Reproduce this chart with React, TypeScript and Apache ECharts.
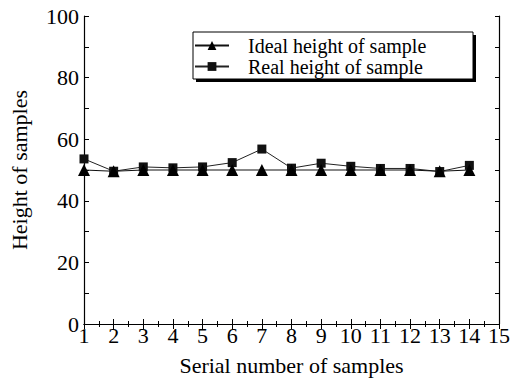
import React, { useEffect, useRef } from "react";
import * as echarts from "echarts";

const sampleNumbers = [1, 2, 3, 4, 5, 6, 7, 8, 9, 10, 11, 12, 13, 14];
const idealHeights = [50, 49.6, 50, 50, 50, 50, 50, 50, 50, 50, 50, 50, 49.6, 50];
const realHeights = [53.6, 49.6, 51, 50.7, 51, 52.4, 56.8, 50.6, 52.2, 51.2, 50.5, 50.5, 49.5, 51.5];
const xLabel = "Serial number of samples";
const yLabel = "Height of samples";
const idealName = "Ideal height of sample";
const realName = "Real height of sample";

const FONT = '"Liberation Serif", "Times New Roman", serif';

export default function App() {
  const ref = useRef<HTMLDivElement>(null);
  useEffect(() => {
    if (!ref.current) return;
    const chart = echarts.init(ref.current, undefined, { renderer: "svg" });
    const tickStyle = { color: "#000", width: 1 };
    chart.setOption({
      animation: false,
      backgroundColor: "#fff",
      textStyle: { fontFamily: FONT, color: "#000" },
      grid: { left: 84, right: 12, top: 16, bottom: 55, outerBoundsMode: "none", containLabel: false },
      graphic: [
        {
          type: "rect",
          z: 5,
          shape: { x: 196, y: 35, width: 280, height: 47 },
          style: { fill: "#000" },
        },
        {
          type: "rect",
          z: 6,
          shape: { x: 193, y: 32, width: 280, height: 47 },
          style: { fill: "#fff", stroke: "#000", lineWidth: 1 },
        },
      ],
      legend: {
        z: 10,
        left: 194,
        top: 35,
        orient: "vertical",
        itemGap: 0,
        itemWidth: 34,
        itemHeight: 11,
        padding: 0,
        textStyle: { fontFamily: FONT, fontSize: 20, color: "#000", lineHeight: 21, padding: [0, 0, 0, 14] },
        data: [idealName, realName],
      },
      xAxis: [
        {
          type: "value",
          min: 1,
          max: 15,
          interval: 1,
          name: xLabel,
          nameLocation: "middle",
          nameGap: 30,
          nameTextStyle: { fontFamily: FONT, fontSize: 22, color: "#000" },
          axisLine: { lineStyle: { color: "#000", width: 1.2 } },
          axisTick: { inside: true, length: 5, lineStyle: tickStyle },
          minorTick: { show: true, splitNumber: 2, length: 3, lineStyle: tickStyle },
          axisLabel: { fontFamily: FONT, fontSize: 22, color: "#000", margin: 0 },
          splitLine: { show: false },
        },
        {
          type: "value",
          position: "top",
          min: 1,
          max: 15,
          interval: 1,
          axisLine: { show: true, lineStyle: { color: "#000", width: 1.2 } },
          axisTick: { inside: true, length: 5, lineStyle: tickStyle },
          minorTick: { show: true, splitNumber: 2, length: 3, lineStyle: tickStyle },
          axisLabel: { show: false },
          splitLine: { show: false },
        },
      ],
      yAxis: [
        {
          type: "value",
          min: 0,
          max: 100,
          interval: 20,
          name: yLabel,
          nameLocation: "middle",
          nameGap: 54,
          nameTextStyle: { fontFamily: FONT, fontSize: 22, color: "#000" },
          axisLine: { show: true, lineStyle: { color: "#000", width: 1.2 } },
          axisTick: { inside: true, length: 5, lineStyle: tickStyle },
          minorTick: { show: true, splitNumber: 2, length: 5, lineStyle: tickStyle },
          axisLabel: { fontFamily: FONT, fontSize: 22, color: "#000", margin: 5 },
          splitLine: { show: false },
        },
        {
          type: "value",
          position: "right",
          min: 0,
          max: 100,
          interval: 10,
          axisLine: { show: true, lineStyle: { color: "#000", width: 1.2 } },
          axisTick: { inside: true, length: 4, lineStyle: tickStyle },
          axisLabel: { show: false },
          splitLine: { show: false },
        },
      ],
      series: [
        {
          name: idealName,
          type: "line",
          data: sampleNumbers.map((x, i) => [x, idealHeights[i]]),
          symbol: "triangle",
          symbolSize: 12,
          itemStyle: { color: "#000" },
          lineStyle: { color: "#111", width: 1.2 },
          z: 3,
        },
        {
          name: realName,
          type: "line",
          data: sampleNumbers.map((x, i) => [x, realHeights[i]]),
          symbol: "rect",
          symbolSize: 9,
          itemStyle: { color: "#111" },
          lineStyle: { color: "#222", width: 1 },
          z: 2,
        },
      ],
    });
    return () => chart.dispose();
  }, []);
  return <div ref={ref} style={{ width: 511, height: 379, position: "absolute", left: 0, top: 0 }} />;
}
